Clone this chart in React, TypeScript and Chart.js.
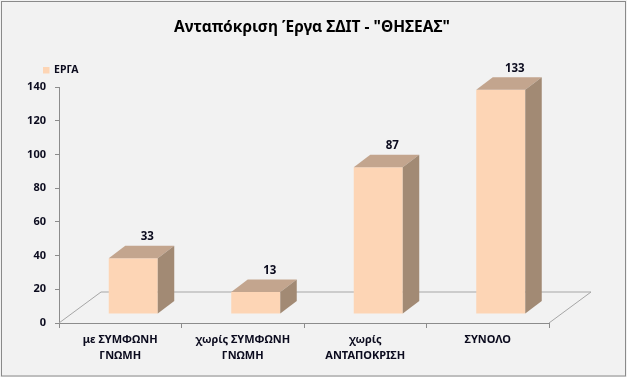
import React, { useEffect, useRef } from "react";
import { Chart, registerables } from "chart.js";

Chart.register(...registerables);

const TITLE = 'Ανταπόκριση Έργα ΣΔΙΤ - "ΘΗΣΕΑΣ"';
const SERIES_NAME = "ΕΡΓΑ";
const categories: string[][] = [
  ["με ΣΥΜΦΩΝΗ", "ΓΝΩΜΗ"],
  ["χωρίς ΣΥΜΦΩΝΗ", "ΓΝΩΜΗ"],
  ["χωρίς", "ΑΝΤΑΠΟΚΡΙΣΗ"],
  ["ΣΥΝΟΛΟ"],
];
const values: number[] = [33, 13, 87, 133];
const yMin = 0;
const yMax = 140;
const yStep = 20;

const FONT = '"Noto Sans", "DejaVu Sans", sans-serif';
const FRONT = "#FDD5B5";
const TOP = "#C3A58E";
const SIDE = "#A28A74";
const AXIS = "#8C8C8C";
const TEXT = "#0b0b1e";

// 3D geometry (pixels)
const FLOOR_DX = 42;
const FLOOR_DY = 31;
const BAR_SHIFT_X = 13;
const BAR_SHIFT_Y = -9;
const BAR_DX = 16.5;
const BAR_DY = 12.5;

const threeD = {
  id: "threeD",
  beforeDraw(chart: any) {
    const { ctx, width, height } = chart;
    ctx.save();
    ctx.fillStyle = "#F2F2F2";
    ctx.fillRect(0, 0, width, height);
    ctx.strokeStyle = "#8A8A8A";
    ctx.lineWidth = 1;
    ctx.strokeRect(1.5, 1.5, width - 3, height - 2.5);
    // title
    ctx.fillStyle = "#000";
    ctx.font = `bold 15.5px ${FONT}`;
    ctx.textAlign = "center";
    ctx.textBaseline = "middle";
    ctx.fillText(TITLE, 312, 28);
    // legend
    ctx.fillStyle = FRONT;
    ctx.fillRect(43, 67, 6.5, 6.5);
    ctx.fillStyle = TEXT;
    ctx.font = `bold 10.5px ${FONT}`;
    ctx.textAlign = "left";
    ctx.fillText(SERIES_NAME, 54, 70.5);
    ctx.restore();
  },
  beforeDatasetsDraw(chart: any) {
    const { ctx, chartArea } = chart;
    const y0 = chart.scales.y.getPixelForValue(0);
    const l = chartArea.left;
    const r = chartArea.right;
    ctx.save();
    ctx.strokeStyle = "#A6A6A6";
    ctx.lineWidth = 1;
    ctx.beginPath();
    ctx.moveTo(l, y0);
    ctx.lineTo(l + FLOOR_DX, y0 - FLOOR_DY);
    ctx.lineTo(r + FLOOR_DX, y0 - FLOOR_DY);
    ctx.lineTo(r, y0);
    ctx.stroke();
    ctx.restore();
    ctx.save();
    ctx.translate(BAR_SHIFT_X, BAR_SHIFT_Y);
  },
  afterDatasetsDraw(chart: any) {
    const { ctx } = chart;
    ctx.restore();
    const meta = chart.getDatasetMeta(0);
    ctx.save();
    meta.data.forEach((el: any, i: number) => {
      const p = el.getProps(["x", "y", "base", "width"], true);
      const left = p.x - p.width / 2 + BAR_SHIFT_X;
      const right = p.x + p.width / 2 + BAR_SHIFT_X;
      const top = p.y + BAR_SHIFT_Y;
      const bottom = p.base + BAR_SHIFT_Y;
      ctx.fillStyle = TOP;
      ctx.beginPath();
      ctx.moveTo(left, top);
      ctx.lineTo(left + BAR_DX, top - BAR_DY);
      ctx.lineTo(right + BAR_DX, top - BAR_DY);
      ctx.lineTo(right, top);
      ctx.closePath();
      ctx.fill();
      ctx.fillStyle = SIDE;
      ctx.beginPath();
      ctx.moveTo(right, top);
      ctx.lineTo(right + BAR_DX, top - BAR_DY);
      ctx.lineTo(right + BAR_DX, bottom - BAR_DY);
      ctx.lineTo(right, bottom);
      ctx.closePath();
      ctx.fill();
      ctx.fillStyle = TEXT;
      ctx.font = `bold 11.5px ${FONT}`;
      ctx.textAlign = "center";
      ctx.textBaseline = "middle";
      ctx.fillText(String(values[i]), p.x + BAR_SHIFT_X + 14, top - BAR_DY - 9);
    });
    ctx.restore();
  },
};

export default function App() {
  const ref = useRef<HTMLCanvasElement | null>(null);
  useEffect(() => {
    if (!ref.current) return;
    const chart = new Chart(ref.current, {
      type: "bar",
      data: {
        labels: categories,
        datasets: [
          {
            label: SERIES_NAME,
            data: values,
            backgroundColor: FRONT,
            borderWidth: 0,
            categoryPercentage: 1,
            barPercentage: 0.4,
          },
        ],
      },
      options: {
        animation: false,
        responsive: false,
        devicePixelRatio: 1,
        layout: { padding: { top: 87, left: 0, right: 78, bottom: 0 } },
        plugins: {
          legend: { display: false },
          title: { display: false },
          tooltip: { enabled: false },
        },
        scales: {
          x: {
            grid: {
              display: true,
              drawOnChartArea: false,
              drawTicks: true,
              tickLength: 5,
              color: AXIS,
              offset: true,
            },
            border: { display: true, color: AXIS },
            ticks: {
              color: TEXT,
              font: { family: FONT, size: 11, weight: "bold", lineHeight: 1.45 },
              padding: 4,
              maxRotation: 0,
              autoSkip: false,
            },
            afterFit(scale: any) {
              scale.height = 54;
            },
          },
          y: {
            min: yMin,
            max: yMax,
            grid: {
              display: true,
              drawOnChartArea: false,
              drawTicks: true,
              tickLength: 4,
              color: AXIS,
            },
            border: { display: true, color: AXIS },
            ticks: {
              stepSize: yStep,
              color: TEXT,
              font: { family: FONT, size: 11, weight: "bold" },
              padding: 9,
            },
            afterFit(scale: any) {
              scale.width = 59;
            },
          },
        },
      },
      plugins: [threeD],
    });
    return () => chart.destroy();
  }, []);
  return (
    <div style={{ position: "absolute", left: 0, top: 0, width: 627, height: 377 }}>
      <canvas ref={ref} width={627} height={377} style={{ display: "block" }} />
    </div>
  );
}
